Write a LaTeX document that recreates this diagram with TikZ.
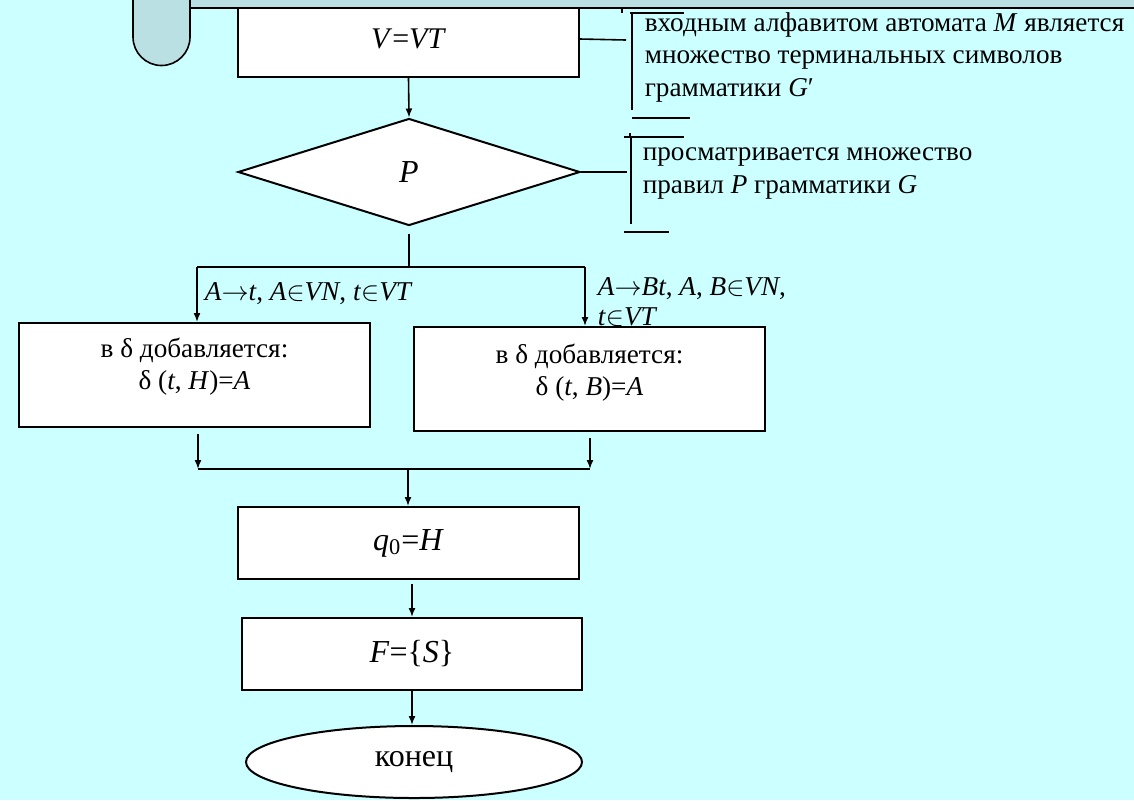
\documentclass[tikz,border=0pt]{standalone}
\usepackage{fix-cm}
\usepackage{fontspec}
\setmainfont{Liberation Serif}
\usetikzlibrary{shapes.geometric,arrows.meta}
\definecolor{fon}{RGB}{204,255,255}
\definecolor{polosa}{RGB}{187,224,227}
\newcommand{\el}{\ensuremath{\in}}
\newcommand{\strl}{\ensuremath{\rightarrow}}

\begin{document}
\begin{tikzpicture}[x=0.5pt,y=-0.5pt,>={Latex[length=4.5pt,width=3.5pt]},line width=0.8pt,
	blok/.style={draw,fill=white,line width=1pt,inner sep=0pt},
	big/.style={font=\fontsize{16}{19}\selectfont},
	txt/.style={font=\fontsize{13.6}{16.25}\selectfont,inner sep=0pt}]
\fill[color=fon] (0,0) rectangle (1134,800);
\useasboundingbox (0,0) rectangle (1134,800);

\node[blok,font=\fontsize{15}{18}\selectfont,minimum width=170.5pt,minimum height=38pt] (vt) at (408.5,39) {\textit{V}=\textit{VT}};

\fill[color=polosa] (190,0) rectangle (1134,8);
\draw (190,8)--(1134,8);
\filldraw[fill=polosa] (133,-2)--(133,37) arc[start angle=180,end angle=0,radius=28.5]--(190,-2);

\node[blok,diamond,big,minimum width=171pt,minimum height=53.5pt] (p) at (409,172) {\textit{P}};

\node[txt,align=left,anchor=north west] (k1) at (644,7.8)
	{\strut входным алфавитом автомата \textit{M} является\\
	 множество терминальных символов\\
	 грамматики \textit{G}′};
\node[txt,align=left,anchor=north west] (k2) at (642,137)
	{\strut просматривается множество\\
	 правил \textit{P} грамматики \textit{G}};

\node[txt,anchor=north west] (l1) at (204,276.6)
	{\strut\textit{A}\strl\textit{t}, \textit{A}\el\textit{VN}, \textit{t}\el\textit{VT}};
\node[txt,font=\fontsize{13.6}{15}\selectfont,align=left,anchor=north west] (l2) at (597,274)
	{\strut\textit{A}\strl\textit{Bt}, \textit{A}, \textit{B}\el\textit{VN},\\
	 \textit{t}\el\textit{VT}};

\node[blok,minimum width=175.5pt,minimum height=52pt] (dl) at (194.5,375) {};
\node[txt,align=center,anchor=north] (dltxt) at (194.5,333.6)
	{\strut в δ добавляется:\\ δ (\textit{t}, \textit{H})=\textit{A}};
\node[blok,minimum width=175.5pt,minimum height=52pt] (dr) at (589.5,379) {};
\node[txt,align=center,anchor=north] (drtxt) at (589.5,339.6)
	{\strut в δ добавляется:\\ δ (\textit{t}, \textit{B})=\textit{A}};

\node[blok,big,minimum width=170.5pt,minimum height=36pt] (q) at (408.5,543)
	{\textit{q}\textsubscript{0}=\textit{H}};
\node[blok,big,minimum width=170pt,minimum height=36pt] (f) at (412,654)
	{\textit{F}=\{\textit{S}\}};
\node[blok,ellipse,big,minimum width=168pt,minimum height=36pt] (e) at (414,762) {конец};

\coordinate (b1) at (626,40);
\coordinate (b2) at (627,172);
\coordinate (razvl) at (197,267);
\coordinate (razvr) at (585,267);
\coordinate (slivl) at (198,469);
\coordinate (slivr) at (590,469);
\coordinate (sliv) at (408,469);

\draw (vt.east)--(b1);
\draw[->] (vt.south)--(p.north);
\draw (p.east)--(b2);
\draw[shorten <=3.5pt] (p.south)--(p.south |- razvl);
\draw (razvl)--(razvr);
\draw[->] (razvl)--(razvl |- dl.north);
\draw[->] (razvr)--(razvr |- dr.north);
\draw[->,shorten <=3pt] (slivl |- dl.south)--(slivl);
\draw[->,shorten <=3pt] (slivr |- dr.south)--(slivr);
\draw (slivl)--(slivr);
\draw[->] (sliv)--(sliv |- q.north);
\draw[->,shorten <=2pt] (f.north |- q.south)--(f.north);
\draw[->] (f.south)--(f.south |- e.north);

\draw (622,9)--(622,13);
\draw (630,13)--(684,13);
\draw (632,13)--(632,110);
\draw (632,118)--(690,118);

\draw (630,133)--(630,137);
\draw (624,137)--(684,137);
\draw (631,137)--(631,224);
\draw (624,232)--(669,232);

\end{tikzpicture}
\end{document}
